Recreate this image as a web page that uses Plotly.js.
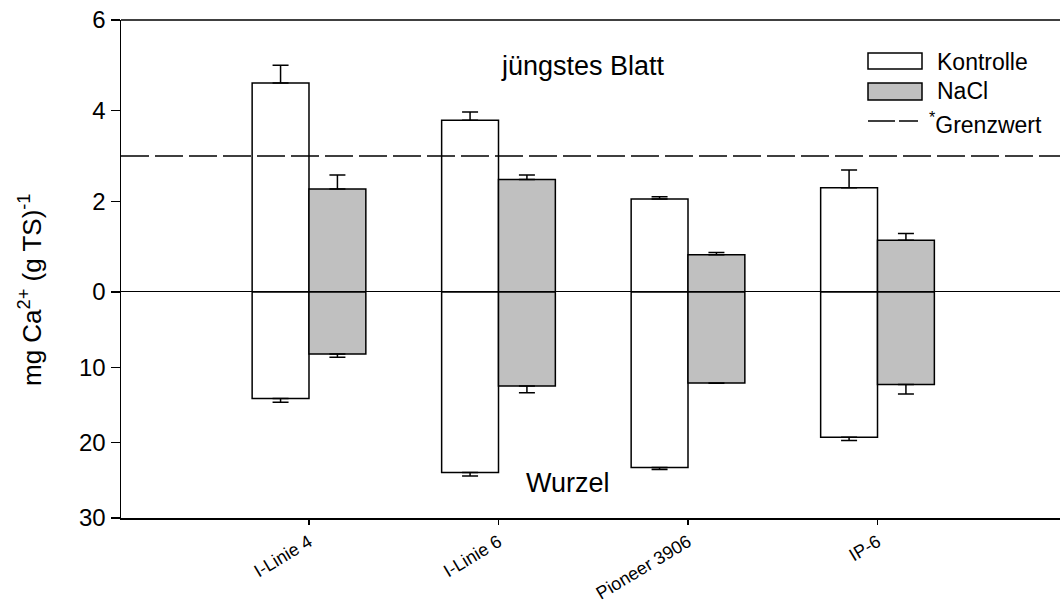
<!DOCTYPE html>
<html>
<head>
<meta charset="utf-8">
<script src="https://cdn.plot.ly/plotly-3.0.1.min.js"></script>
<style>html,body{margin:0;padding:0;background:#fff;}#chart{width:1060px;height:603px;}</style>
</head>
<body>
<div id="chart"></div>
<script>
// ---- data ----
const categories = ["I-Linie 4", "I-Linie 6", "Pioneer 3906", "IP-6"];
const leafKontrolle = [4.61, 3.79, 2.05, 2.30];
const leafKontrolleErr = [0.39, 0.18, 0.05, 0.39];
const leafNaCl = [2.27, 2.48, 0.82, 1.14];
const leafNaClErr = [0.31, 0.10, 0.05, 0.15];
const rootKontrolle = [14.15, 23.97, 23.3, 19.27];
const rootKontrolleErr = [0.48, 0.44, 0.27, 0.45];
const rootNaCl = [8.22, 12.47, 12.07, 12.29];
const rootNaClErr = [0.44, 0.89, 0.05, 1.24];
const grenzwert = 3;
const leafTicks = [0, 2, 4, 6];
const rootTicks = [10, 20, 30];

// ---- layout helpers ----
const W = 1060, H = 603;
const M = {l: 121, r: 0, t: 20, b: 85};
const PW = W - M.l - M.r, PH = H - M.t - M.b;
const px = x => (x - M.l) / PW;
const py = y => 1 - (y - M.t) / PH;
const split = py(292);
const FONT = "Liberation Sans, Arial, Helvetica, sans-serif";

function err(arr) {
  return {type: 'data', array: arr, arrayminus: arr.map(() => 0), symmetric: false,
          color: '#000', thickness: 1.5, width: 8};
}
const outline = {color: '#000', width: 1.5};

const traces = [
  {type: 'bar', x: categories, y: leafKontrolle, xaxis: 'x', yaxis: 'y', name: 'Kontrolle',
   marker: {color: '#ffffff', line: outline}, error_y: err(leafKontrolleErr)},
  {type: 'bar', x: categories, y: leafNaCl, xaxis: 'x', yaxis: 'y', name: 'NaCl',
   marker: {color: '#c0c0c0', line: outline}, error_y: err(leafNaClErr)},
  {type: 'bar', x: categories, y: rootKontrolle, xaxis: 'x', yaxis: 'y2', name: 'Kontrolle',
   marker: {color: '#ffffff', line: outline}, error_y: err(rootKontrolleErr)},
  {type: 'bar', x: categories, y: rootNaCl, xaxis: 'x', yaxis: 'y2', name: 'NaCl',
   marker: {color: '#c0c0c0', line: outline}, error_y: err(rootNaClErr)}
];

const axisCommon = {showline: true, linecolor: '#000', linewidth: 1.5, ticks: 'outside',
  tickcolor: '#000', tickwidth: 1.5, showgrid: false, zeroline: false,
  tickfont: {family: FONT, size: 24, color: '#000'}};

const layout = {
  width: W, height: H,
  margin: M,
  paper_bgcolor: '#fff', plot_bgcolor: '#fff',
  showlegend: false,
  barmode: 'group', bargap: 0.4, bargroupgap: 0,
  xaxis: Object.assign({}, axisCommon, {
    type: 'category', range: [-0.992, 3.963], anchor: 'y2', ticklen: 5,
    tickangle: -31, tickfont: {family: FONT, size: 18, color: '#000'}
  }),
  yaxis: Object.assign({}, axisCommon, {
    domain: [split, 1], range: [0, 6], tickvals: leafTicks, ticklen: 9, anchor: 'x'
  }),
  yaxis2: Object.assign({}, axisCommon, {
    domain: [0, split], range: [30, 0], tickvals: rootTicks, ticklen: 9, anchor: 'x'
  }),
  shapes: [
    {type: 'line', xref: 'paper', yref: 'paper', x0: 0, x1: 1, y0: 1, y1: 1, line: {color: '#000', width: 1.5}},
    {type: 'line', xref: 'paper', yref: 'y', x0: 0, x1: 1, y0: 0, y1: 0, line: {color: '#000', width: 2}},
    {type: 'line', xref: 'paper', yref: 'y', x0: 0, x1: 1, y0: grenzwert, y1: grenzwert, line: {color: '#000', width: 1.5, dash: '28px,6px'}},
    // legend
    {type: 'rect', xref: 'paper', yref: 'paper', x0: px(868), x1: px(922), y0: py(69), y1: py(53), fillcolor: '#ffffff', line: {color: '#000', width: 1.5}},
    {type: 'rect', xref: 'paper', yref: 'paper', x0: px(868), x1: px(922), y0: py(100), y1: py(83), fillcolor: '#c0c0c0', line: {color: '#000', width: 1.5}},
    {type: 'line', xref: 'paper', yref: 'paper', x0: px(868), x1: px(918), y0: py(121), y1: py(121), line: {color: '#000', width: 1.5, dash: '27px,4px'}}
  ],
  annotations: [
    {xref: 'paper', yref: 'paper', x: px(935), y: py(62), xanchor: 'left', yanchor: 'middle', showarrow: false,
     text: 'Kontrolle', font: {family: FONT, size: 23, color: '#000'}},
    {xref: 'paper', yref: 'paper', x: px(935), y: py(91), xanchor: 'left', yanchor: 'middle', showarrow: false,
     text: 'NaCl', font: {family: FONT, size: 23, color: '#000'}},
    {xref: 'paper', yref: 'paper', x: px(927), y: py(123), xanchor: 'left', yanchor: 'middle', showarrow: false,
     text: '<sup>*</sup>Grenzwert', font: {family: FONT, size: 23, color: '#000'}},
    {xref: 'paper', yref: 'paper', x: px(583), y: py(66), xanchor: 'center', yanchor: 'middle', showarrow: false,
     text: 'jüngstes Blatt', font: {family: FONT, size: 27, color: '#000'}},
    {xref: 'paper', yref: 'paper', x: px(568), y: py(483), xanchor: 'center', yanchor: 'middle', showarrow: false,
     text: 'Wurzel', font: {family: FONT, size: 27, color: '#000'}},
    {xref: 'paper', yref: 'paper', x: px(30), y: py(290), xanchor: 'center', yanchor: 'middle', showarrow: false,
     textangle: -90, text: 'mg Ca<sup>2+</sup> (g TS)<sup>-1</sup>', font: {family: FONT, size: 26, color: '#000'}}
  ]
};

Plotly.newPlot('chart', traces, layout, {displayModeBar: false, staticPlot: true});
</script>
</body>
</html>
